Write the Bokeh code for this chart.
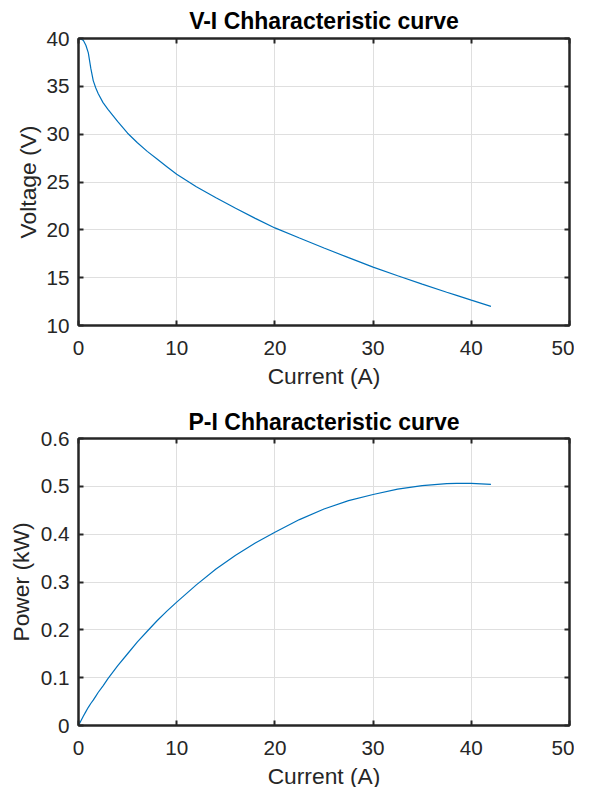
from bokeh.plotting import figure
from bokeh.layouts import column
from bokeh.models import Range1d, FixedTicker, LinearAxis
from bokeh.embed import file_html
from bokeh.resources import INLINE

# ---- data ----
current_a = [0, 0.25, 0.5, 0.75, 1.0, 1.25, 1.5, 1.75, 2, 2.5, 3, 4, 5, 6, 7, 8, 9, 10,
             12, 14, 16, 18, 20, 22.5, 25, 27.5, 30, 32.5, 35, 37.5, 38.5, 40, 42]
voltage_v = [40, 39.95, 39.8, 39.3, 38.5, 36.9, 35.6, 34.85, 34.25, 33.3, 32.6, 31.3,
             30.1, 29.1, 28.2, 27.4, 26.6, 25.8, 24.5, 23.35, 22.25, 21.2, 20.2, 19.14,
             18.1, 17.09, 16.1, 15.2, 14.33, 13.48, 13.15, 12.65, 12.0]
power_kw = [0, 0.010, 0.020, 0.029, 0.038, 0.046, 0.053, 0.061, 0.069, 0.083, 0.098,
            0.125, 0.150, 0.175, 0.197, 0.219, 0.239, 0.258, 0.294, 0.327, 0.356,
            0.3815, 0.404, 0.4305, 0.4525, 0.470, 0.483, 0.494, 0.5015, 0.5055, 0.506,
            0.506, 0.504]

x_ticks = [0, 10, 20, 30, 40, 50]
v_ticks = [10, 15, 20, 25, 30, 35, 40]
p_ticks = [0, 0.1, 0.2, 0.3, 0.4, 0.5, 0.6]

titles = ["V-I Chharacteristic curve", "P-I Chharacteristic curve"]
x_label = "Current (A)"
y_labels = ["Voltage (V)", "Power (kW)"]

DARK = "#262626"
FONT = "Liberation Sans"


def make_fig(title, ylabel, yr, yticks, ys, top, bottom, tstand, ylstand):
    p = figure(frame_width=491, frame_height=287,
               x_range=Range1d(0, 50), y_range=Range1d(*yr),
               output_backend="svg", toolbar_location=None,
               min_border_left=78, min_border_right=5,
               min_border_top=top, min_border_bottom=bottom,
               background_fill_color="white", border_fill_color="white")
    p.title.text = title
    p.title.align = "center"
    p.title.text_font = FONT
    p.title.text_font_style = "bold"
    p.title.text_font_size = "23px"
    p.title.text_color = "#000000"
    p.title.standoff = tstand

    p.outline_line_color = DARK
    p.outline_line_width = 2
    p.outline_line_alpha = 1

    p.xaxis.ticker = FixedTicker(ticks=x_ticks)
    p.yaxis.ticker = FixedTicker(ticks=yticks)
    p.xaxis.axis_label = x_label
    p.yaxis.axis_label = ylabel
    for ax in (p.xaxis[0], p.yaxis[0]):
        ax.axis_line_color = DARK
        ax.axis_line_width = 2
        ax.major_tick_in = 5
        ax.major_tick_out = 0
        ax.major_tick_line_color = DARK
        ax.major_tick_line_width = 2
        ax.minor_tick_line_color = None
        ax.major_label_text_font = FONT
        ax.major_label_text_font_size = "20.7px"
        ax.major_label_text_color = DARK
        ax.axis_label_text_font = FONT
        ax.axis_label_text_font_size = "22.8px"
        ax.axis_label_text_font_style = "normal"
        ax.axis_label_text_color = DARK
    p.xaxis.major_label_standoff = 15
    p.xaxis.axis_label_standoff = 5
    p.yaxis.major_label_standoff = 9
    p.yaxis.axis_label_standoff = ylstand
    p.yaxis.major_label_overrides = {0: "0"}

    # box ticks on the top and right edges (no labels)
    for loc, tk in (("above", x_ticks), ("right", yticks)):
        ax = LinearAxis(ticker=FixedTicker(ticks=tk))
        ax.major_label_text_font_size = "0px"
        ax.major_label_text_color = None
        ax.major_label_text_alpha = 0
        ax.major_label_standoff = 0
        ax.major_tick_in = 5
        ax.major_tick_out = 0
        ax.major_tick_line_color = DARK
        ax.major_tick_line_width = 2
        ax.minor_tick_line_color = None
        ax.axis_line_color = DARK
        ax.axis_line_width = 2
        p.add_layout(ax, loc)

    p.xgrid.ticker = FixedTicker(ticks=x_ticks)
    p.ygrid.ticker = FixedTicker(ticks=yticks)
    p.grid.grid_line_color = "#dfdfdf"
    p.grid.grid_line_width = 1

    p.line(current_a, ys, line_color="#0072BD", line_width=1.2)
    return p


p1 = make_fig(titles[0], y_labels[0], (10, 40), v_ticks, voltage_v, 38, 72, 9, 2)
p2 = make_fig(titles[1], y_labels[1], (0, 0.6), p_ticks, power_kw, 41, 55, 8, 4)

layout = column(p1, p2, spacing=0)
open("out.html", "w").write(file_html(layout, INLINE))
